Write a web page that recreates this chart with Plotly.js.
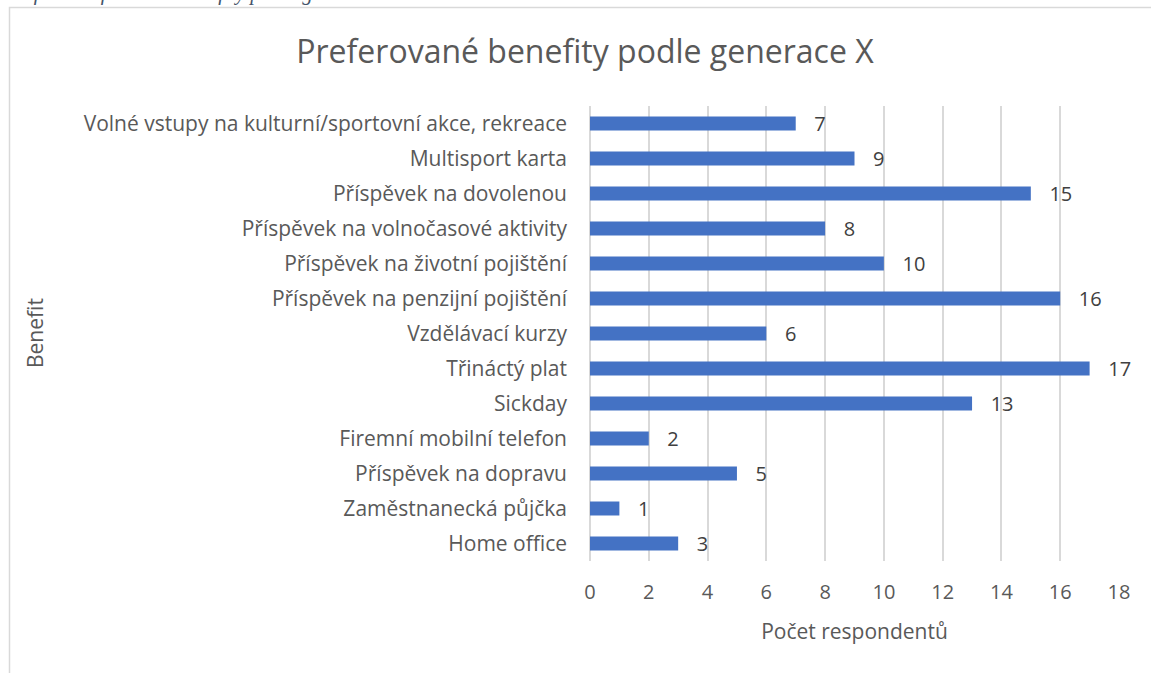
<!DOCTYPE html>
<html>
<head>
<meta charset="utf-8">
<script src="https://cdn.plot.ly/plotly-3.0.1.min.js"></script>
<style>
html,body{margin:0;padding:0;background:#fff;}
#chart{width:1151px;height:673px;}
</style>
</head>
<body>
<div id="chart"></div>
<script>
const categories = [
  "Volné vstupy na kulturní/sportovní akce, rekreace",
  "Multisport karta",
  "Příspěvek na dovolenou",
  "Příspěvek na volnočasové aktivity",
  "Příspěvek na životní pojištění",
  "Příspěvek na penzijní pojištění",
  "Vzdělávací kurzy",
  "Třináctý plat",
  "Sickday",
  "Firemní mobilní telefon",
  "Příspěvek na dopravu",
  "Zaměstnanecká půjčka",
  "Home office"
];
const values = [7, 9, 15, 8, 10, 16, 6, 17, 13, 2, 5, 1, 3];
const xTickValues = [0, 2, 4, 6, 8, 10, 12, 14, 16, 18];

const chartTitle = "Preferované benefity podle generace X";
const captionText = "Graf 25 Preferované benefity podle generace X";
const xTitle = "Počet respondentů";
const yTitle = "Benefit";

const FONT = "'Open Sans', sans-serif";
const W = 1151, H = 673;
const margin = {l: 590, r: 32, t: 106, b: 112};
const pw = W - margin.l - margin.r, ph = H - margin.t - margin.b;
const px2x = p => (p - margin.l) / pw;
const py2y = p => (H - margin.b - p) / ph;

const trace = {
  type: 'bar',
  orientation: 'h',
  y: categories,
  x: values,
  width: 0.4,
  marker: {color: '#4472C4'},
  text: values.map(v => '\u00a0\u00a0\u00a0' + v),
  textposition: 'outside',
  constraintext: 'none',
  cliponaxis: false,
  textfont: {family: FONT, size: 20, color: '#404040'},
  hoverinfo: 'x+y'
};

const layout = {
  width: W, height: H,
  margin: margin,
  paper_bgcolor: '#fff', plot_bgcolor: '#fff',
  showlegend: false,
  font: {family: FONT, color: '#595959'},
  title: {text: chartTitle, font: {family: FONT, size: 32, color: '#595959'}, x: 585 / W, xref: 'container', xanchor: 'center', y: 1 - 52 / H, yref: 'container', yanchor: 'middle'},
  xaxis: {
    range: [0, 18], tickvals: xTickValues, ticktext: xTickValues.map(String),
    showgrid: true, gridcolor: '#d9d9d9', gridwidth: 1.5,
    zeroline: true, zerolinecolor: '#d9d9d9', zerolinewidth: 1.5,
    showline: false, ticks: '',
    tickfont: {family: FONT, size: 20, color: '#595959'},
    ticklabelstandoff: 17,
    title: {text: xTitle, font: {family: FONT, size: 21, color: '#595959'}, standoff: 20}
  },
  yaxis: {
    autorange: 'reversed', type: 'category',
    showgrid: false, zeroline: false, showline: false, ticks: '',
    tickfont: {family: FONT, size: 21, color: '#595959'},
    ticklabelstandoff: 22
  },
  shapes: [{
    type: 'path', xref: 'paper', yref: 'paper',
    path: `M ${px2x(9.5)} ${py2y(700)} L ${px2x(9.5)} ${py2y(7.5)} L ${px2x(1200)} ${py2y(7.5)}`,
    line: {color: '#d9d9d9', width: 1.5}
  }],
  annotations: [{
    text: captionText, xref: 'paper', yref: 'paper',
    x: px2x(-2), y: py2y(7), xanchor: 'left', yanchor: 'bottom', showarrow: false,
    font: {family: "'Liberation Serif', serif", size: 21, color: '#44546A', style: 'italic'}
  }, {
    text: yTitle, xref: 'paper', yref: 'paper', textangle: -90,
    x: px2x(35), y: py2y(333), xanchor: 'center', yanchor: 'middle', showarrow: false,
    font: {family: FONT, size: 21, color: '#595959'}
  }]
};

Plotly.newPlot('chart', [trace], layout, {displayModeBar: false, responsive: false});
</script>
</body>
</html>
